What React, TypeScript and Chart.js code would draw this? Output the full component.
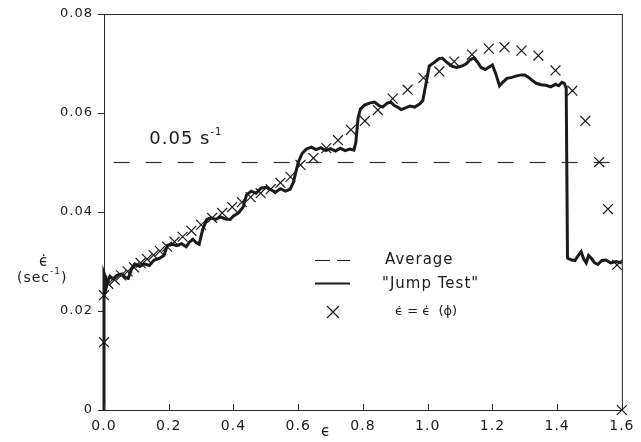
import { useEffect, useRef } from 'react';
import { Chart, registerables } from 'chart.js';

Chart.register(...registerables);

// ---- data ----
const jumpStrain = [
  0, 0, 0.004, 0.006, 0.01, 0.018, 0.028, 0.04, 0.055, 0.065, 0.075, 0.085, 0.095, 0.11, 0.125, 0.14,
  0.155, 0.17, 0.185, 0.196, 0.21, 0.224, 0.24, 0.254, 0.265, 0.275, 0.285, 0.294, 0.305, 0.318, 0.33,
  0.345, 0.36, 0.375, 0.39, 0.4, 0.415, 0.43, 0.44, 0.455, 0.47, 0.485, 0.5, 0.515, 0.53, 0.545, 0.56,
  0.575, 0.585, 0.6, 0.612, 0.625, 0.641, 0.655, 0.67, 0.685, 0.7, 0.715, 0.73, 0.745, 0.76, 0.772,
  0.778, 0.785, 0.792, 0.805, 0.82, 0.836, 0.85, 0.861, 0.875, 0.886, 0.897, 0.907, 0.918, 0.93, 0.945,
  0.96, 0.975, 0.985, 0.995, 1.005, 1.02, 1.035, 1.045, 1.06, 1.076, 1.09, 1.107, 1.12, 1.132, 1.143,
  1.155, 1.165, 1.178, 1.19, 1.2, 1.21, 1.222, 1.232, 1.245, 1.26, 1.275, 1.29, 1.3, 1.312, 1.321,
  1.335, 1.35, 1.365, 1.38, 1.395, 1.405, 1.415, 1.422, 1.428, 1.432, 1.445, 1.455, 1.465, 1.474,
  1.482, 1.49, 1.497, 1.505, 1.515, 1.526, 1.538, 1.551, 1.565, 1.582, 1.6,
];
const jumpRate = [
  0, 0.0277, 0.027, 0.0245, 0.0255, 0.027, 0.0265, 0.0272, 0.0275, 0.0268, 0.0266, 0.0285, 0.0295, 0.029, 0.0295, 0.0292,
  0.0303, 0.0306, 0.0312, 0.0333, 0.0335, 0.0332, 0.0336, 0.033, 0.034, 0.0345, 0.0338, 0.0335, 0.0365, 0.0385, 0.0388,
  0.0385, 0.039, 0.0386, 0.0385, 0.0392, 0.0398, 0.041, 0.0434, 0.0442, 0.0438, 0.0448, 0.045, 0.0445, 0.044, 0.0447, 0.0442,
  0.0446, 0.046, 0.05, 0.0518, 0.0527, 0.0531, 0.0526, 0.053, 0.0524, 0.0528, 0.0523, 0.0529, 0.0524, 0.0527, 0.0525,
  0.054, 0.059, 0.0608, 0.0616, 0.062, 0.0622, 0.0615, 0.0612, 0.062, 0.0622, 0.0615, 0.0612, 0.0607, 0.061, 0.0614,
  0.0612, 0.0618, 0.0625, 0.066, 0.0695, 0.0702, 0.071, 0.0711, 0.0702, 0.0694, 0.0692, 0.0695, 0.07, 0.0708, 0.0711,
  0.0702, 0.0692, 0.0688, 0.0693, 0.0697, 0.068, 0.0655, 0.0662, 0.067, 0.0672, 0.0675, 0.0677, 0.0677, 0.0672, 0.0667,
  0.066, 0.0657, 0.0656, 0.0653, 0.0658, 0.0655, 0.0662, 0.066, 0.065, 0.0307, 0.0303, 0.0302, 0.0312, 0.032,
  0.0305, 0.0297, 0.0312, 0.0307, 0.0298, 0.0294, 0.0302, 0.0303, 0.0297, 0.03, 0.0297,
];
const phiStrain = [
  0, 0, 0.013, 0.033, 0.053, 0.073, 0.093, 0.113, 0.133, 0.153, 0.173, 0.195, 0.218, 0.243, 0.27, 0.3,
  0.334, 0.365, 0.396, 0.426, 0.453, 0.484, 0.515, 0.545, 0.576, 0.607, 0.647, 0.687, 0.723, 0.763,
  0.806, 0.846, 0.892, 0.938, 0.987, 1.036, 1.082, 1.137, 1.189, 1.237, 1.29, 1.342, 1.395, 1.447,
  1.487, 1.53, 1.557, 1.585, 1.6,
];
const phiRate = [
  0.0137, 0.0232, 0.0255, 0.0263, 0.0272, 0.028, 0.0288, 0.0297, 0.0305, 0.0313, 0.0321, 0.033, 0.034, 0.035, 0.0362, 0.0374,
  0.0388, 0.0398, 0.041, 0.042, 0.043, 0.0438, 0.0446, 0.0459, 0.0471, 0.0495, 0.0509, 0.0529, 0.0545, 0.0566,
  0.0584, 0.0606, 0.0629, 0.0647, 0.0671, 0.0684, 0.0704, 0.0718, 0.073, 0.0733, 0.0726, 0.0716, 0.0686, 0.0645,
  0.0584, 0.0501, 0.0406, 0.0293, 0,
];
const averageStrain = [0.03, 1.58];
const averageRate = [0.05, 0.05];
const xTickValues = [0, 0.2, 0.4, 0.6, 0.8, 1.0, 1.2, 1.4, 1.6];
const yTickValues = [0, 0.02, 0.04, 0.06, 0.08];
const legendLabels = ['Average', '"Jump Test"', '\u03F5\u0307 = \u03F5\u0307  (\u03D5)'];
const averageLabel = '0.05 s';
const xTitle = '\u03F5';
const yTitle = '\u03F5\u0307';
const yUnit = '(sec';

const FONT = '"DejaVu Sans", "Liberation Sans", sans-serif';
const INK = '#1b1b1b';

const overlay = {
  id: 'overlay',
  beforeDraw(chart: any) {
    chart.ctx.letterSpacing = '1px';
  },
  afterDraw(chart: any) {
    const { ctx, chartArea: a, scales } = chart;
    const x = scales.x;
    const y = scales.y;
    ctx.save();
    ctx.letterSpacing = '0px';
    ctx.strokeStyle = '#2a2a2a';
    ctx.lineWidth = 1;
    ctx.beginPath();
    ctx.moveTo(a.left, a.top + 0.5);
    ctx.lineTo(a.right + 1, a.top + 0.5);
    ctx.moveTo(a.right + 0.5, a.top);
    ctx.lineTo(a.right + 0.5, a.bottom);
    // inward x ticks
    xTickValues.forEach((v) => {
      const px = Math.round(x.getPixelForValue(v)) + 0.5;
      ctx.moveTo(px, a.bottom);
      ctx.lineTo(px, a.bottom - 6);
    });
    ctx.stroke();

    ctx.fillStyle = INK;
    ctx.textBaseline = 'middle';
    ctx.letterSpacing = '1px';

    // x title
    ctx.font = `15px ${FONT}`;
    ctx.textAlign = 'center';
    ctx.fillText(xTitle, 326, 432);

    // y title
    ctx.font = `15px ${FONT}`;
    ctx.fillText(yTitle, 44, 262);
    ctx.font = `14px ${FONT}`;
    ctx.textAlign = 'left';
    ctx.fillText(yUnit, 17, 278);
    const w1 = ctx.measureText(yUnit).width;
    ctx.font = `9px ${FONT}`;
    ctx.fillText('-1', 17 + w1, 272);
    const w2 = ctx.measureText('-1').width;
    ctx.font = `14px ${FONT}`;
    ctx.fillText(')', 17 + w1 + w2, 278);

    // 0.05 s-1 label
    ctx.font = `18px ${FONT}`;
    ctx.textAlign = 'left';
    const ax = x.getPixelForValue(0.14);
    const ay = y.getPixelForValue(0.0546);
    ctx.fillText(averageLabel, ax, ay);
    const w3 = ctx.measureText(averageLabel).width;
    ctx.font = `10px ${FONT}`;
    ctx.fillText('-1', ax + w3, ay - 7);

    // legend
    const lx = 315;
    ctx.strokeStyle = INK;
    ctx.lineWidth = 1.2;
    ctx.beginPath();
    ctx.moveTo(lx, 260.5);
    ctx.lineTo(lx + 15, 260.5);
    ctx.moveTo(lx + 22, 260.5);
    ctx.lineTo(lx + 35, 260.5);
    ctx.stroke();
    ctx.lineWidth = 2.2;
    ctx.beginPath();
    ctx.moveTo(lx, 283.5);
    ctx.lineTo(lx + 35, 283.5);
    ctx.stroke();
    ctx.lineWidth = 1.2;
    ctx.beginPath();
    ctx.moveTo(333 - 6, 312 - 6);
    ctx.lineTo(333 + 6, 312 + 6);
    ctx.moveTo(333 + 6, 312 - 6);
    ctx.lineTo(333 - 6, 312 + 6);
    ctx.stroke();

    ctx.font = `15px ${FONT}`;
    ctx.fillText(legendLabels[0], 385, 260);
    ctx.fillText(legendLabels[1], 382, 284);
    ctx.letterSpacing = '0px';
    ctx.font = `13px ${FONT}`;
    ctx.fillText(legendLabels[2], 395, 312);
    ctx.restore();
  },
};

export default function App() {
  const canvasRef = useRef<HTMLCanvasElement | null>(null);

  useEffect(() => {
    document.body.style.margin = '0';
    const canvas = canvasRef.current;
    if (!canvas) return;
    const chart = new Chart(canvas, {
      type: 'scatter',
      data: {
        datasets: [
          {
            label: 'phi',
            data: phiStrain.map((v, i) => ({ x: v, y: phiRate[i] })),
            showLine: false,
            pointStyle: 'crossRot',
            pointRadius: 7,
            pointBorderWidth: 1.2,
            borderColor: INK,
            backgroundColor: INK,
            clip: false,
          },
          {
            label: 'Jump Test',
            data: jumpStrain.map((v, i) => ({ x: v, y: jumpRate[i] })),
            showLine: true,
            borderColor: INK,
            borderWidth: 3,
            pointRadius: 0,
            tension: 0,
            clip: false,
          },
          {
            label: 'Average',
            data: averageStrain.map((v, i) => ({ x: v, y: averageRate[i] })),
            showLine: true,
            borderColor: '#333',
            borderWidth: 1.2,
            borderDash: [16, 16],
            pointRadius: 0,
          },
        ],
      },
      options: {
        animation: false,
        responsive: false,
        devicePixelRatio: 1,
        layout: { padding: { top: 14, right: 15, left: 0, bottom: 0 } },
        plugins: { legend: { display: false }, tooltip: { enabled: false } },
        scales: {
          x: {
            type: 'linear',
            min: 0,
            max: 1.6,
            afterFit: (s: any) => { s.height = 32; },
            afterBuildTicks: (s: any) => { s.ticks = xTickValues.map((v) => ({ value: v })); },
            grid: { display: false, drawTicks: false, tickLength: 0 },
            border: { display: true, color: '#2a2a2a', width: 1 },
            ticks: {
              padding: 8,
              color: INK,
              font: { family: FONT, size: 14 },
              maxRotation: 0,
              callback: (v: any) => Number(v).toFixed(1),
            },
          },
          y: {
            type: 'linear',
            min: 0,
            max: 0.08,
            afterFit: (s: any) => { s.width = 104; },
            afterBuildTicks: (s: any) => { s.ticks = yTickValues.map((v) => ({ value: v })); },
            grid: { display: true, drawOnChartArea: false, drawTicks: true, tickLength: 6, color: '#2a2a2a' },
            border: { display: true, color: '#2a2a2a', width: 1 },
            ticks: {
              padding: 5,
              color: INK,
              font: { family: FONT, size: 13 },
              callback: (v: any) => (Number(v) === 0 ? '0' : Number(v).toFixed(2)),
            },
          },
        },
      },
      plugins: [overlay],
    });
    return () => chart.destroy();
  }, []);

  return (
    <div style={{ width: 641, height: 442 }}>
      <canvas ref={canvasRef} width={641} height={442} style={{ display: 'block' }} />
    </div>
  );
}
